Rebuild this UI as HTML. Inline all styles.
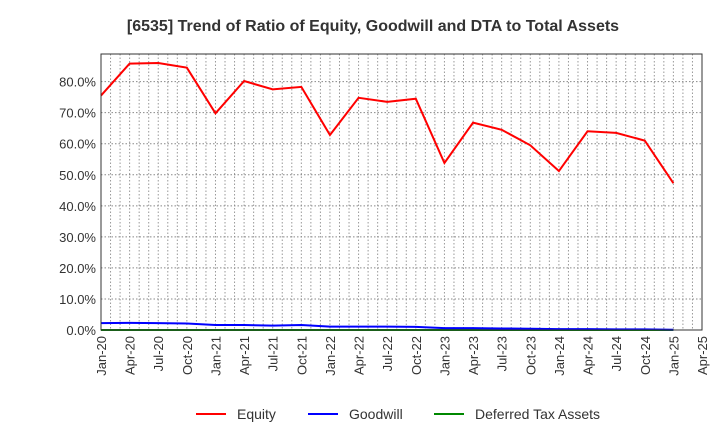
<!DOCTYPE html>
<html><head><meta charset="utf-8"><style>
body{margin:0;background:#fff;font-family:"Liberation Sans",sans-serif}
</style></head><body>
<svg width="720" height="440" xmlns="http://www.w3.org/2000/svg" id="c">
<text x="373" y="31" text-anchor="middle" font-weight="bold" font-size="16" fill="#333">[6535]  Trend of Ratio of Equity, Goodwill and DTA to Total Assets</text>
<g id="grid"></g><g id="series"></g><g id="axes"></g>
<g>
<line x1="196" y1="414" x2="226" y2="414" stroke="#f00" stroke-width="2"/><text x="237" y="419" font-size="14" fill="#333">Equity</text>
<line x1="308" y1="414" x2="338" y2="414" stroke="#00f" stroke-width="2"/><text x="349" y="419" font-size="14" fill="#333">Goodwill</text>
<line x1="434" y1="414" x2="464" y2="414" stroke="#080" stroke-width="2"/><text x="475" y="419" font-size="14" fill="#333">Deferred Tax Assets</text>
</g>
</svg>
<script>
const xTickLabels=["Jan-20","Apr-20","Jul-20","Oct-20","Jan-21","Apr-21","Jul-21","Oct-21","Jan-22","Apr-22","Jul-22","Oct-22","Jan-23","Apr-23","Jul-23","Oct-23","Jan-24","Apr-24","Jul-24","Oct-24","Jan-25","Apr-25"];
const yTicks=[0,10,20,30,40,50,60,70,80];
const equity=[75.5,85.8,86.0,84.5,69.8,80.2,77.5,78.3,62.8,74.8,73.5,74.5,53.8,66.8,64.5,59.5,51.2,64.0,63.5,61.0,47.3];
const goodwill=[2.2,2.3,2.2,2.1,1.6,1.6,1.4,1.6,1.1,1.1,1.1,1.0,0.6,0.6,0.5,0.4,0.3,0.3,0.2,0.2,0.1];
const dta=[0,0,0,0,0,0,0,0,0,0,0,0,0,0,0,0,0,0,0,0,0];
const L=101,R=702,T=54,B=330,yMax=88.9;
const NS="http://www.w3.org/2000/svg";
const x=q=>L+(R-L)*q/21, y=v=>B-(B-T)*v/yMax;
function mk(t,a,p){const e=document.createElementNS(NS,t);for(const k in a)e.setAttribute(k,a[k]);p.appendChild(e);return e;}
const g=document.getElementById('grid'),s=document.getElementById('series'),ax=document.getElementById('axes');
for(let m=1;m<63;m++){const l=mk('line',{x1:x(m/3),x2:x(m/3),y1:T,y2:B,stroke:'#999','stroke-width':1,'stroke-dasharray':'1.5,2'},g);

}
yTicks.forEach(v=>{const l=mk('line',{x1:L,x2:R,y1:y(v),y2:y(v),stroke:'#888','stroke-width':1,'stroke-dasharray':'1.5,2'},g);


const t=mk('text',{x:L-5,y:y(v)+5,'text-anchor':'end','font-size':13,fill:'#333'},ax);t.textContent=v.toFixed(1)+'%';

});
xTickLabels.forEach((lb,i)=>{const t=mk('text',{transform:`translate(${x(i)+5},${B+6}) rotate(-90)`,'text-anchor':'end','font-size':13,fill:'#333'},ax);t.textContent=lb;

});
const fr=mk('rect',{x:L,y:T,width:R-L,height:B-T,fill:'none',stroke:'#333','stroke-width':1},ax);


[[dta,'#080','dta-line'],[goodwill,'#00f','goodwill-line'],[equity,'#f00','equity-line']].forEach(([d,c,n])=>{
const p=mk('polyline',{points:d.map((v,i)=>x(i)+','+y(v)).join(' '),fill:'none',stroke:c,'stroke-width':2},s);

});
</script>
</body></html>
